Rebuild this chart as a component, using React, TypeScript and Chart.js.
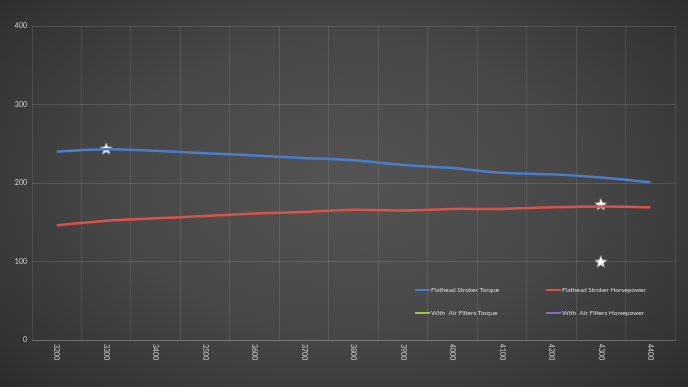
import React, { useEffect, useRef } from "react";
import { Chart, registerables } from "chart.js";

Chart.register(...registerables);

const rpmLabels = ["3200", "3300", "3400", "3500", "3600", "3700", "3800", "3900", "4000", "4100", "4200", "4300", "4400"];
const strokerTorque = [240, 243, 241, 238, 235, 232, 229, 223, 219, 213, 211, 207, 201];
const strokerHp = [146, 152, 155, 158, 161, 163, 166, 165, 167, 167, 169, 170, 169];
const filtersTorque: (number | null)[] = [];
const filtersHp: (number | null)[] = [];
const starPoints = [
  { x: "3300", y: 244 },
  { x: "4300", y: 173 },
  { x: "4300", y: 100 },
];
const yTicks = [0, 100, 200, 300, 400];

const FONT = "Lato, 'Open Sans', sans-serif";

function makeStar(): HTMLCanvasElement {
  const c = document.createElement("canvas");
  const s = 16;
  c.width = s;
  c.height = s;
  const ctx = c.getContext("2d")!;
  const cx = s / 2, cy = s / 2 + 0.6, R = 7, r = 2.9;
  ctx.beginPath();
  for (let i = 0; i < 10; i++) {
    const a = -Math.PI / 2 + (i * Math.PI) / 5;
    const rad = i % 2 === 0 ? R : r;
    const x = cx + rad * Math.cos(a);
    const y = cy + rad * Math.sin(a);
    if (i === 0) ctx.moveTo(x, y);
    else ctx.lineTo(x, y);
  }
  ctx.closePath();
  ctx.fillStyle = "#ffffff";
  ctx.fill();
  ctx.strokeStyle = "rgba(60,60,60,0.6)";
  ctx.lineWidth = 0.6;
  ctx.stroke();
  return c;
}

const customDraw = {
  id: "customDraw",
  afterDraw(chart: any) {
    const ctx = chart.ctx;
    const xs = chart.scales.x;
    ctx.save();
    // rotated x labels (top to bottom)
    ctx.fillStyle = "#d0d0d0";
    ctx.font = `7px ${FONT}`;
    ctx.textAlign = "left";
    ctx.textBaseline = "middle";
    rpmLabels.forEach((lab, i) => {
      const px = xs.getPixelForTick(i);
      ctx.save();
      ctx.translate(px, chart.chartArea.bottom + 4);
      ctx.rotate(Math.PI / 2);
      ctx.fillText(lab, 0, 0);
      ctx.restore();
    });
    // legend
    const legendDs = chart.data.datasets.filter((d: any) => !d.isStar);
    const cols = [415, 546];
    const rows = [290, 313];
    ctx.font = `6.5px ${FONT}`;
    ctx.textBaseline = "middle";
    legendDs.forEach((d: any, i: number) => {
      const x = cols[i % 2];
      const y = rows[Math.floor(i / 2)];
      ctx.strokeStyle = d.borderColor;
      ctx.lineWidth = 2;
      ctx.beginPath();
      ctx.moveTo(x, y);
      ctx.lineTo(x + 15, y);
      ctx.stroke();
      ctx.fillStyle = "#d9d9d9";
      ctx.fillText(d.label, x + 16, y);
    });
    ctx.restore();
  },
};

export default function App() {
  const ref = useRef<HTMLCanvasElement>(null);
  useEffect(() => {
    if (!ref.current) return;
    const star = makeStar();
    const chart = new Chart(ref.current, {
      type: "line",
      data: {
        labels: rpmLabels,
        datasets: [
          {
            label: "Flathead Stroker Torque",
            data: strokerTorque,
            borderColor: "#4a7ecb",
            backgroundColor: "#4a7ecb",
            borderWidth: 2.5,
            pointRadius: 0,
            tension: 0.3,
          },
          {
            label: "Flathead Stroker Horsepower",
            data: strokerHp,
            borderColor: "#d9534a",
            backgroundColor: "#d9534a",
            borderWidth: 2.5,
            pointRadius: 0,
            tension: 0.3,
          },
          {
            label: "With  Air Filters Torque",
            data: filtersTorque,
            borderColor: "#a5c04f",
            backgroundColor: "#a5c04f",
            borderWidth: 2.5,
            pointRadius: 0,
          },
          {
            label: "With  Air Filters Horsepower",
            data: filtersHp,
            borderColor: "#8a6cb8",
            backgroundColor: "#8a6cb8",
            borderWidth: 2.5,
            pointRadius: 0,
          },
          {
            label: "stars",
            isStar: true,
            data: starPoints as any,
            showLine: false,
            pointStyle: star as any,
            pointRadius: 8,
            borderColor: "#ffffff",
            backgroundColor: "#ffffff",
          } as any,
        ],
      },
      options: {
        animation: false,
        responsive: false,
        maintainAspectRatio: false,
        layout: { padding: { left: 0, top: 26, right: 13, bottom: 47 } },
        plugins: { legend: { display: false }, tooltip: { enabled: false } },
        scales: {
          x: {
            type: "category",
            offset: true,
            grid: { offset: true, color: "rgba(255,255,255,0.1)", drawTicks: false, lineWidth: 1 },
            border: { color: "rgba(255,255,255,0.18)" },
            ticks: { display: false },
            afterFit: (s: any) => {
              s.height = 0;
            },
          },
          y: {
            min: 0,
            max: 400,
            afterBuildTicks: (s: any) => {
              s.ticks = yTicks.map((v) => ({ value: v }));
            },
            grid: { color: "rgba(255,255,255,0.12)", drawTicks: false },
            border: { display: false },
            ticks: {
              color: "#d9d9d9",
              font: { size: 7, family: FONT },
              padding: 5,
            },
            afterFit: (s: any) => {
              s.width = 32;
            },
          },
        },
      },
      plugins: [customDraw],
    } as any);
    return () => chart.destroy();
  }, []);
  return (
    <div
      style={{
        position: "absolute",
        left: 0,
        top: 0,
        width: 688,
        height: 387,
        background: "radial-gradient(ellipse 75% 85% at 50% 48%, #545454 0%, #474747 45%, #333333 80%, #262626 100%)",
      }}
    >
      <canvas ref={ref} width={688} height={387} style={{ width: 688, height: 387, display: "block" }} />
    </div>
  );
}
